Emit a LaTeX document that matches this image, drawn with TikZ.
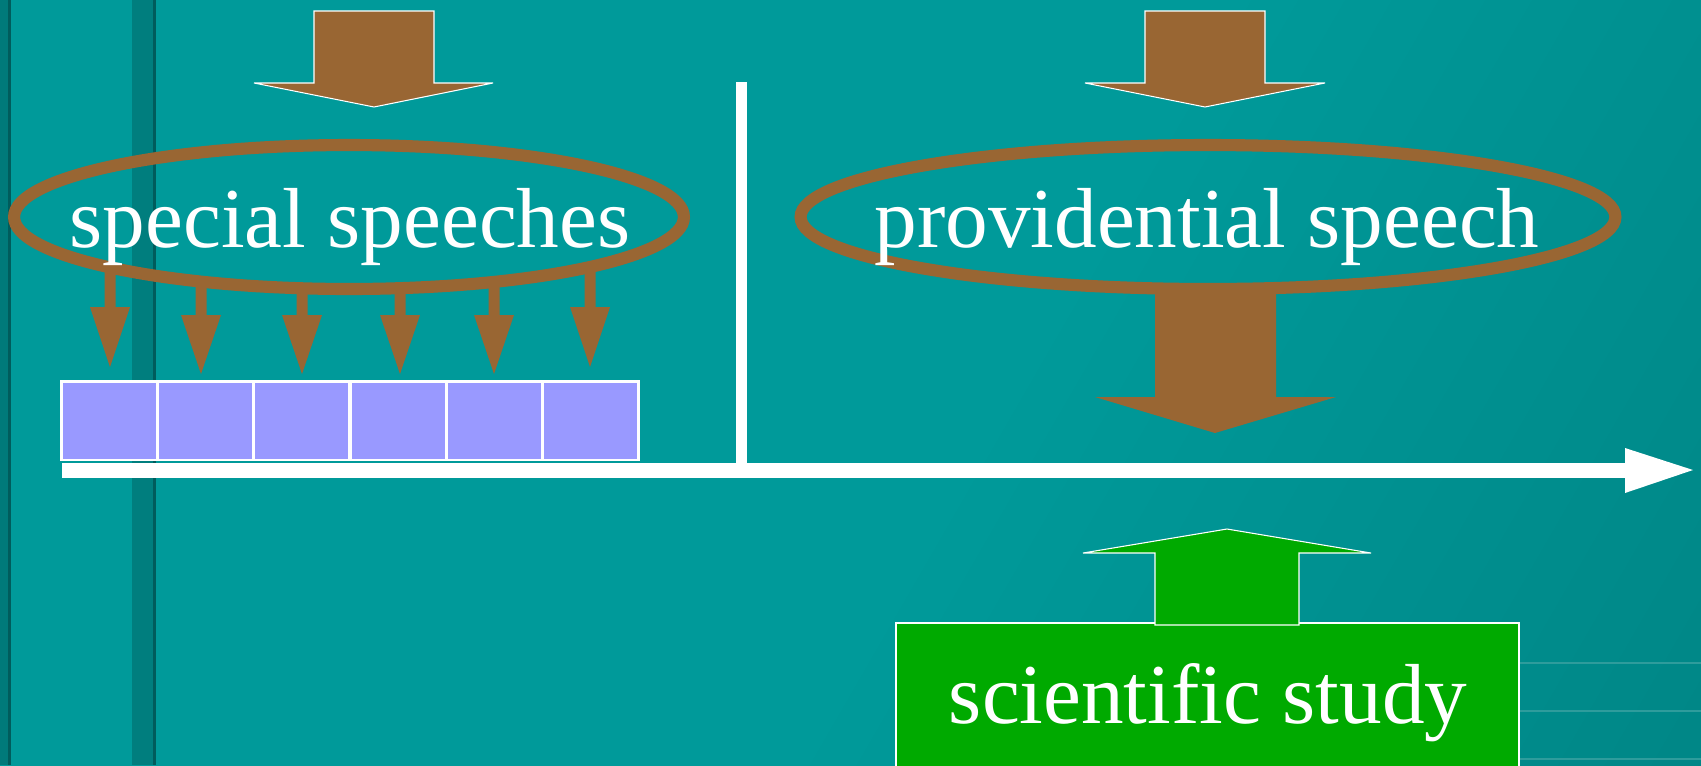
\documentclass[tikz,border=0pt]{standalone}
\usepackage{fontspec}
\setmainfont{Liberation Serif}
\usetikzlibrary{shapes.geometric}
\definecolor{tealA}{HTML}{009A9A}
\definecolor{tealB}{HTML}{007C7C}
\definecolor{stripeA}{HTML}{007A7A}
\definecolor{stripeB}{HTML}{007E7E}
\definecolor{stripeD}{HTML}{005C5C}
\definecolor{hlinec}{HTML}{2E9C9C}
\definecolor{brownA}{HTML}{996633}
\definecolor{greenA}{HTML}{00AA00}
\definecolor{cellc}{HTML}{9999FF}
\pgfdeclarehorizontalshading{bgshade}{100bp}{color(0bp)=(tealA); color(55bp)=(tealA); color(100bp)=(tealB)}
\tikzset{
  oval/.style={draw=brownA, line width=6.9pt, ellipse, inner sep=0pt, outer sep=0pt},
  bigtext/.style={text=white, font=\fontsize{48.5}{56}\selectfont, inner sep=0pt, anchor=base},
  cell/.style={draw=white, line width=1.7pt, fill=cellc, minimum width=1.926cm, minimum height=1.58cm, inner sep=0pt},
  blockarrow/.style={fill=brownA, draw=white, line width=0.6pt},
  hline/.style={draw=hlinec, line width=0.6pt}
}
\begin{document}
\begin{tikzpicture}[x=0.02cm, y=-0.02cm]
\useasboundingbox (0,0) rectangle (1701,765);
% background
\shade[shading=bgshade, shading angle=-30] (0,0) rectangle (1701,765);
\fill[stripeA] (0,0) rectangle (8,765);
\fill[stripeD] (8,0) rectangle (11,765);
\fill[stripeB] (132,0) rectangle (153,765);
\fill[stripeD] (153,0) rectangle (156,765);
\draw[hline] (1520,663) -- (1701,663);
\draw[hline] (1520,711) -- (1701,711);
\draw[hline] (1520,759) -- (1701,759);

% top arrows
\draw[blockarrow] (314,11) -- (434,11) -- (434,83) -- (493,83) -- (374,107) -- (254,83) -- (314,83) -- cycle;
\draw[blockarrow] (1145,11) -- (1265,11) -- (1265,83) -- (1325,83) -- (1205,107) -- (1085,83) -- (1145,83) -- cycle;

% vertical divider
\coordinate (vtop) at (741.5,82);
\coordinate (vbot) at (741.5,464);
\draw[white, line width=6.2pt] (vtop) -- (vbot);

% ellipses
\node[oval, minimum width=13.4cm, minimum height=2.88cm] (ell1) at (349,217) {};
\node[oval, minimum width=16.3cm, minimum height=2.88cm] (ell2) at (1208,217) {};
\node[bigtext] (t1) at (350,247) {special speeches};
\node[bigtext] (t2) at (1207,247) {providential speech};

% cells
\foreach \i/\cx in {1/109.2,2/205.5,3/301.8,4/398.2,5/494.5,6/590.8}{
  \node[cell] (c\i) at (\cx,420.5) {};
}

% small arrows: x, shaft start, head start, tip
\foreach \ax/\as/\ah/\at in {110/267/307/367, 201/281/315/374, 302/288/315/374, 400/288/315/374, 494/282/315/374, 590/267/307/367}{
  \fill[brownA] ({\ax-5.5},\as) -- ({\ax-5.5},\ah) -- ({\ax-20},\ah) -- (\ax,\at) -- ({\ax+20},\ah) -- ({\ax+5.5},\ah) -- ({\ax+5.5},\as) -- cycle;
}

% big brown arrow
\fill[brownA] (1155,288) -- (1155,397) -- (1095,397) -- (1215,433) -- (1336,397) -- (1276,397) -- (1276,288) -- cycle;

% axis
\coordinate (axs) at (62,470);
\coordinate (axe) at (1625,470);
\fill[white] (62,463) rectangle (1626,478);
\fill[white] (1625,448) -- (1693,470) -- (1625,493) -- cycle;

% scientific study
\draw[fill=greenA, draw=white, line width=0.6pt] (896,623) rectangle (1519,770);
\node[bigtext] (t3) at (1208,723) {scientific study};
\draw[fill=greenA, draw=white, line width=0.6pt] (1155,625) -- (1155,553) -- (1083,553) -- (1227,529) -- (1371,553) -- (1299,553) -- (1299,625) -- cycle;
\end{tikzpicture}
\end{document}
